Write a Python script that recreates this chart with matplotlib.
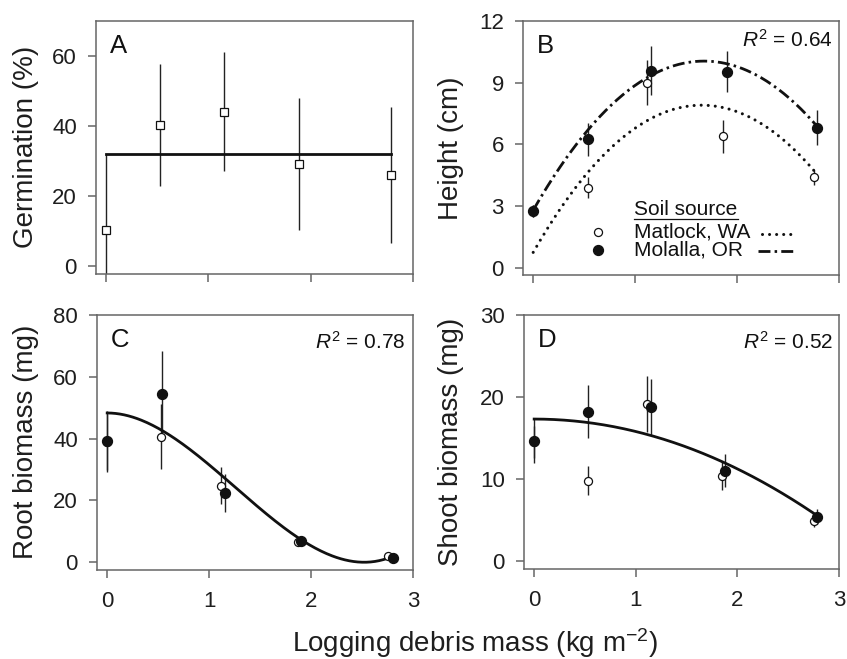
import numpy as np
import matplotlib
matplotlib.use("Agg")
import matplotlib.pyplot as plt

plt.rcParams['font.family'] = ['Liberation Sans', 'DejaVu Sans']
plt.rcParams['mathtext.fontset'] = 'custom'
plt.rcParams['mathtext.rm'] = 'Liberation Sans'
plt.rcParams['mathtext.it'] = 'Liberation Sans:italic'

# ---------------- data ----------------
# Panel A: germination (pooled)
germ_x = [0.0, 0.53, 1.15, 1.89, 2.78]
germ_y = [10.3, 40.2, 44.1, 29.1, 26.0]
germ_err = [21.7, 17.5, 17.0, 19.0, 19.5]
germ_mean = 31.9

# Panel B: height (cm)
ht_mat_x = [0.0, 0.54, 1.12, 1.86, 2.75]
ht_mat_y = [2.75, 3.9, 9.0, 6.4, 4.4]
ht_mat_err = [0.3, 0.5, 1.1, 0.8, 0.35]
ht_mol_x = [0.0, 0.54, 1.16, 1.90, 2.78]
ht_mol_y = [2.77, 6.26, 9.59, 9.54, 6.82]
ht_mol_err = [0.3, 0.8, 1.2, 1.0, 0.85]
ht_mat_fit = [0.75, 8.66, -2.62]     # a + b x + c x^2
ht_mol_fit = [2.8, 8.65, -2.58]

# Panel C: root biomass (mg)
rt_mat_x = [0.0, 0.53, 1.12, 1.87, 2.75]
rt_mat_y = [39.0, 40.6, 24.8, 6.5, 2.1]
rt_mat_err = [9.0, 10.5, 6.0, 1.2, 0.6]
rt_mol_x = [0.0, 0.54, 1.16, 1.90, 2.80]
rt_mol_y = [39.1, 54.3, 22.4, 6.8, 1.5]
rt_mol_err = [10.0, 14.0, 6.0, 1.5, 0.6]
rt_fit = [48.3, 0.0, -22.8, 6.03]    # a + b x + c x^2 + d x^3

# Panel D: shoot biomass (mg)
sh_mat_x = [0.0, 0.53, 1.11, 1.85, 2.75]
sh_mat_y = [14.5, 9.8, 19.1, 10.4, 4.9]
sh_mat_err = [2.0, 1.8, 3.4, 1.8, 0.8]
sh_mol_x = [0.0, 0.53, 1.15, 1.88, 2.78]
sh_mol_y = [14.6, 18.2, 18.8, 11.0, 5.4]
sh_mol_err = [2.7, 3.2, 3.4, 2.0, 0.9]
sh_fit = [17.3, 0.0, -1.52]

x_ticks = [0, 1, 2, 3]
x_fit_end = 2.78

# ---------------- figure ----------------
fig = plt.figure(figsize=(8.47, 6.59), dpi=100)
W, H = 847, 659
def pos(l, r, t, b):
    return [l / W, 1 - b / H, (r - l) / W, (b - t) / H]

axA = fig.add_axes(pos(96, 413, 21, 274))
axB = fig.add_axes(pos(523, 839, 21, 275))
axC = fig.add_axes(pos(97, 413, 315, 570))
axD = fig.add_axes(pos(524, 839, 315, 569))

spine_col = '#666666'
txt_col = '#1e1e1e'
TICK_FS = 16
LAB_FS = 20
LET_FS = 18.5
R2_FS = 15
LEG_FS = 15
for ax in (axA, axB, axC, axD):
    for s in ax.spines.values():
        s.set_color(spine_col)
        s.set_linewidth(1.1)
    ax.set_xlim(-0.1, 3.0)
    ax.set_xticks(x_ticks)
    ax.tick_params(direction='out', length=5.8, width=1.1, color=spine_col,
                   labelsize=TICK_FS, top=False, right=False,
                   labelcolor=txt_col)
    ax.tick_params(axis='y', pad=8.0)
    ax.tick_params(axis='x', pad=9.5)

xf = np.linspace(0, x_fit_end, 200)
DOT = (0, (0.01, 2.3))
DASHDOT = (0, (4.3, 1.5, 0.9, 1.5))

def eb(ax, x, y, e, marker, ms, mfc):
    ax.errorbar(x, y, yerr=e, fmt='none', ecolor='#222222', elinewidth=1.0,
                capsize=0, zorder=2)
    ax.plot(x, y, linestyle='none', marker=marker, ms=ms, mfc=mfc,
            mec='#111111', mew=0.9, zorder=4)

OPEN_MS = 5.8
FILL_MS = 7.2

# ---- A ----
eb(axA, germ_x, germ_y, germ_err, 's', 6.0, 'white')
axA.plot([germ_x[0], germ_x[-1]], [germ_mean, germ_mean], color='#111111',
         lw=2.0, zorder=3)
axA.set_ylim(-2.4, 70)
axA.set_yticks([0, 20, 40, 60])
axA.set_xticklabels([])
axA.text(0.044, 0.874, 'A', transform=axA.transAxes, fontsize=LET_FS,
         va='baseline', ha='left', color='#111111')

# ---- B ----
eb(axB, ht_mat_x, ht_mat_y, ht_mat_err, 'o', OPEN_MS, 'white')
eb(axB, ht_mol_x, ht_mol_y, ht_mol_err, 'o', FILL_MS, '#111111')
axB.plot(xf, np.polyval(ht_mat_fit[::-1], xf), color='#111111', lw=2.2,
         linestyle=DOT, dash_capstyle='round', zorder=3)
axB.plot(xf, np.polyval(ht_mol_fit[::-1], xf), color='#111111', lw=2.0,
         linestyle=DASHDOT, zorder=3)
axB.set_ylim(-0.35, 12)
axB.set_yticks([0, 3, 6, 9, 12])
axB.set_xticklabels([])
axB.text(0.044, 0.874, 'B', transform=axB.transAxes, fontsize=LET_FS,
         va='baseline', ha='left', color='#111111')
axB.text(0.981, 0.90, r'$\it{R}^2$ = 0.64', transform=axB.transAxes,
         fontsize=R2_FS, va='baseline', ha='right', color='#111111')
# legend (drawn manually to match layout: marker | label | line)
tr = axB.transAxes
axB.text(0.351, 0.236, 'Soil source', transform=tr, fontsize=LEG_FS,
         va='baseline', ha='left', color='#111111')
axB.plot([0.351, 0.680], [0.222, 0.222], transform=tr, color='#111111',
         lw=0.9, clip_on=False)
axB.plot([0.237], [0.169], transform=tr, marker='o', ms=OPEN_MS, mfc='white',
         mec='#111111', mew=0.9, linestyle='none')
axB.plot([0.237], [0.100], transform=tr, marker='o', ms=FILL_MS,
         mfc='#111111', mec='#111111', mew=0.9, linestyle='none')
axB.text(0.351, 0.169, 'Matlock, WA', transform=tr, fontsize=LEG_FS,
         va='center', ha='left', color='#111111')
axB.text(0.351, 0.100, 'Molalla, OR', transform=tr, fontsize=LEG_FS,
         va='center', ha='left', color='#111111')
axB.plot([0.755, 0.86], [0.160, 0.160], transform=tr, color='#111111',
         lw=2.2, linestyle=DOT, dash_capstyle='round')
axB.plot([0.745, 0.86], [0.094, 0.094], transform=tr, color='#111111',
         lw=2.0, linestyle=DASHDOT)

# ---- C ----
eb(axC, rt_mat_x, rt_mat_y, rt_mat_err, 'o', OPEN_MS, 'white')
eb(axC, rt_mol_x, rt_mol_y, rt_mol_err, 'o', FILL_MS, '#111111')
axC.plot(xf, np.polyval(rt_fit[::-1], xf), color='#111111', lw=2.0, zorder=3)
axC.set_ylim(-2.5, 80)
axC.set_yticks([0, 20, 40, 60, 80])
axC.text(0.044, 0.874, 'C', transform=axC.transAxes, fontsize=LET_FS,
         va='baseline', ha='left', color='#111111')
axC.text(0.975, 0.866, r'$\it{R}^2$ = 0.78', transform=axC.transAxes,
         fontsize=R2_FS, va='baseline', ha='right', color='#111111')

# ---- D ----
eb(axD, sh_mat_x, sh_mat_y, sh_mat_err, 'o', OPEN_MS, 'white')
eb(axD, sh_mol_x, sh_mol_y, sh_mol_err, 'o', FILL_MS, '#111111')
axD.plot(xf, np.polyval(sh_fit[::-1], xf), color='#111111', lw=2.0, zorder=3)
axD.set_ylim(-1.0, 30)
axD.set_yticks([0, 10, 20, 30])
axD.text(0.044, 0.874, 'D', transform=axD.transAxes, fontsize=LET_FS,
         va='baseline', ha='left', color='#111111')
axD.text(0.981, 0.866, r'$\it{R}^2$ = 0.52', transform=axD.transAxes,
         fontsize=R2_FS, va='baseline', ha='right', color='#111111')

# axis titles
ylabels = [('Germination (%)', 26, 147), ('Height (cm)', 451, 148),
           ('Root biomass (mg)', 26, 442), ('Shoot biomass (mg)', 451, 442)]
for lab, px, py in ylabels:
    fig.text(px / W, 1 - py / H, lab, fontsize=LAB_FS, rotation=90,
             ha='center', va='center', color=txt_col)

fig.text(475 / W, 1 - 652 / H, r'Logging debris mass (kg m$^{-2}$)',
         fontsize=LAB_FS, ha='center', va='baseline', color=txt_col)

fig.savefig('out.png', dpi=100)
